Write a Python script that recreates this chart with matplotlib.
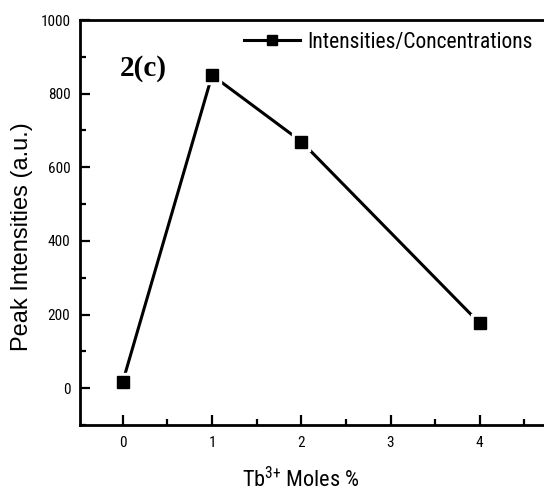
import matplotlib
matplotlib.use('Agg')
import matplotlib.pyplot as plt
from matplotlib.lines import Line2D
from matplotlib.ticker import MultipleLocator

# Tb3+ concentration (mol %) vs. peak intensity
moles = [0, 1, 2, 4]
intensity = [18, 850, 670, 176]
series_name = 'Intensities/Concentrations'

narrow = ['Roboto Condensed', 'Liberation Sans', 'DejaVu Sans']
plt.rcParams['font.family'] = narrow

fig = plt.figure(figsize=(5.44, 4.93), dpi=100)
ax = fig.add_axes([80 / 544, 68 / 493, 1 - 80 / 544, (425 - 20) / 493])

# line, then a white halo so the line stops short of each marker, then the markers
ax.plot(moles, intensity, color='black', lw=2.2, zorder=2)
ax.plot(moles, intensity, ls='none', marker='s', ms=12.5, color='white', zorder=3)
ax.plot(moles, intensity, ls='none', marker='s', ms=8.8, color='black', zorder=4)

ax.set_xlim(-0.48, 4.72)
ax.set_ylim(-100, 1000)
ax.xaxis.set_major_locator(MultipleLocator(1))
ax.xaxis.set_minor_locator(MultipleLocator(0.5))
ax.yaxis.set_major_locator(MultipleLocator(200))
ax.yaxis.set_minor_locator(MultipleLocator(100))
ax.tick_params(which='both', direction='in', width=1.6, labelsize=11)
ax.tick_params(which='major', length=7)
ax.tick_params(which='minor', length=4)
ax.tick_params(axis='y', pad=7)
ax.tick_params(axis='x', pad=8)

for s in ['left', 'bottom', 'top']:
    ax.spines[s].set_linewidth(2)
ax.spines['right'].set_visible(False)

ax.set_xlabel(r'$\mathregular{Tb^{3{+}}}$ Moles %', fontsize=16)
ax.xaxis.set_label_coords((301 - 80) / 464, -(480 - 425) / 405)
ax.xaxis.label.set_va('center')
ax.set_ylabel('Peak Intensities (a.u.)', fontsize=17, family=['Liberation Sans', 'DejaVu Sans'])
ax.yaxis.set_label_coords((22 - 80) / 464, (425 - 237) / 405)
ax.yaxis.label.set_va('center')

ax.text(-0.03, 868, '2(c)', family='Liberation Serif', fontweight='bold', fontsize=21,
        va='center')

proxy = Line2D([], [], color='black', lw=2.2, marker='s', ms=7)
ax.legend([proxy], [series_name], loc='upper right', bbox_to_anchor=(1.0, 1.0),
          frameon=False, fontsize=15.5, handlelength=2.6, handletextpad=0.3,
          borderaxespad=0.15)

fig.savefig('out.png', dpi=100)
